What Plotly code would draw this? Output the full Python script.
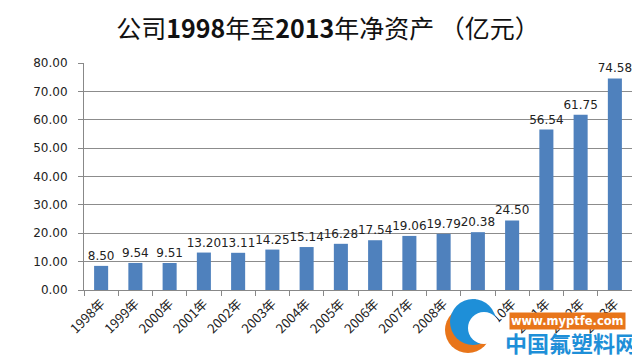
import plotly.graph_objects as go

years = ["1998年", "1999年", "2000年", "2001年", "2002年", "2003年", "2004年", "2005年",
         "2006年", "2007年", "2008年", "2009年", "2010年", "2011年", "2012年", "2013年"]
values = [8.50, 9.54, 9.51, 13.20, 13.11, 14.25, 15.14, 16.28,
          17.54, 19.06, 19.79, 20.38, 24.50, 56.54, 61.75, 74.58]
yticks = [0, 10, 20, 30, 40, 50, 60, 70, 80]

fig = go.Figure(go.Bar(
    x=years, y=values,
    marker=dict(color="#4F81BD", line=dict(width=0)),
    width=0.41,
    text=[f"{v:.2f}" for v in values],
    textposition="outside",
    constraintext="none",
    cliponaxis=False,
    textfont=dict(family="DejaVu Sans", size=12, color="#222222"),
))

fig.update_layout(
    width=640, height=355,
    margin=dict(l=76, r=16, t=55, b=73),
    paper_bgcolor="white", plot_bgcolor="white",
    showlegend=False,
    title=dict(text="公司<b>1998</b>年至<b>2013</b>年净资产 （亿元）", x=0.5, xanchor="center",
               y=0.94, yanchor="middle",
               font=dict(family="Noto Sans CJK SC", size=25, color="#111111")),
    xaxis=dict(tickangle=-45, tickfont=dict(family="Noto Sans CJK SC", size=13, color="#222222"),
               showline=True, linecolor="#888888", linewidth=1, tickson="boundaries",
               ticks="outside", ticklen=5, tickcolor="#888888", showgrid=False),
    yaxis=dict(range=[0, 80], tickvals=yticks, tickformat=".2f",
               tickfont=dict(family="DejaVu Sans", size=12, color="#222222"),
               showgrid=True, gridcolor="#8c8c8c", gridwidth=1,
               showline=True, linecolor="#888888", ticks="outside", ticklen=5, tickcolor="#888888",
               ticklabelstandoff=8, zeroline=False),
)

# watermark (pixel -> paper conversion)
PW, PH, L, B0 = 548.0, 227.0, 76.0, 282.0
def px(X): return (X - L) / PW
def py(Y): return (B0 - Y) / PH

def circ(cx, cy, r, color):
    fig.add_shape(type="circle", xref="paper", yref="paper",
                  x0=px(cx - r), x1=px(cx + r), y0=py(cy + r), y1=py(cy - r),
                  fillcolor=color, line=dict(width=0), layer="above")

circ(460, 322, 23, "#E8751A")
circ(465, 314, 23, "#1E8FD8")
circ(476, 320, 16, "white")

fig.add_annotation(text="<b>www.myptfe.com</b>", xref="paper", yref="paper", x=px(618), y=py(313),
                   xanchor="right", yanchor="middle", borderpad=1,
                   showarrow=False, bgcolor="#E8751A", font=dict(color="white", size=11.5, family="DejaVu Sans"))
fig.add_annotation(text="<b>中国氟塑料网</b>", xref="paper", yref="paper", x=px(630), y=py(334),
                   xanchor="right", yanchor="middle", borderpad=0,
                   showarrow=False, font=dict(color="#1E8FD8", size=22, family="Noto Sans CJK SC"))

fig.write_html("out.html")
